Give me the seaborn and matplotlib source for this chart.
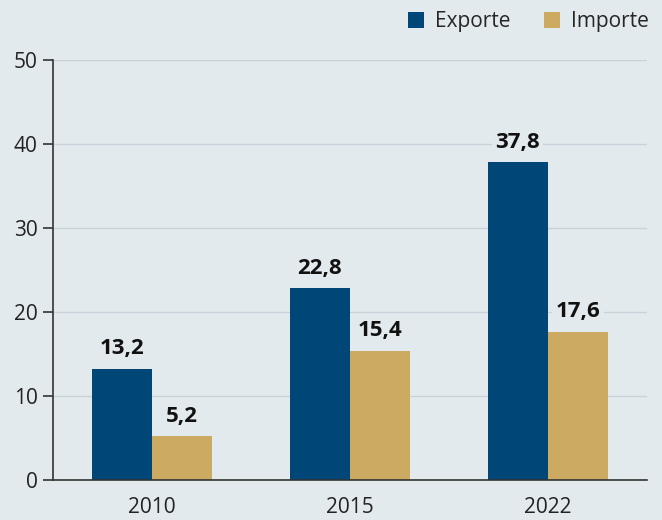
import pandas as pd
import matplotlib.pyplot as plt
import seaborn as sns
from matplotlib.patches import Patch

# data
years = ['2010', '2015', '2022']
exporte = [13.2, 22.8, 37.8]
importe = [5.2, 15.4, 17.6]
series = ['Exporte', 'Importe']
colors = ['#004677', '#cdaa62']
bg = '#e3eaee'

df = pd.DataFrame({
    'Jahr': years * 2,
    'Wert': exporte + importe,
    'Serie': ['Exporte'] * 3 + ['Importe'] * 3,
})

sns.set_style('white')
plt.rcParams['font.family'] = ['Open Sans', 'DejaVu Sans']

fig = plt.figure(figsize=(6.62, 5.2), dpi=100, facecolor=bg)
ax = fig.add_axes([0.080, 0.0769, 0.897, 0.8077], facecolor=bg)

sns.barplot(data=df, x='Jahr', y='Wert', hue='Serie', palette=colors,
            width=0.606, ax=ax, legend=False, linewidth=0, saturation=1)

ax.set_xlim(-0.5, 2.5)
ax.set_ylim(0, 50)
ax.set_yticks([0, 10, 20, 30, 40, 50])
ax.yaxis.grid(True, color='#c9d2d8', linewidth=1)
ax.set_axisbelow(True)

# value labels
for cont in ax.containers:
    for bar in cont:
        h = bar.get_height()
        ax.annotate(f'{h:.1f}'.replace('.', ','),
                    (bar.get_x() + bar.get_width() / 2, h),
                    xytext=(0, 7), textcoords='offset points',
                    ha='center', va='bottom', fontsize=16, fontweight='bold',
                    color='#111111',
                    bbox=dict(boxstyle='square,pad=0.15', fc=bg, ec='none'))

# x ticks: labels at centers, tick marks at group boundaries
ax.set_xticks([0, 1, 2])
ax.set_xticklabels(years)
ax.tick_params(axis='x', length=0, pad=12, labelsize=15, colors='#222222')
ax.set_xticks([0.5, 1.5, 2.5], minor=True)
ax.tick_params(axis='x', which='minor', length=7, width=1.2, color='#333333', direction='out')
ax.tick_params(axis='y', length=7, width=1.2, color='#333333', labelsize=15,
               labelcolor='#222222', direction='out', left=True, pad=4)

ax.set_xlabel('')
ax.set_ylabel('')
for s in ['top', 'right']:
    ax.spines[s].set_visible(False)
for s in ['left', 'bottom']:
    ax.spines[s].set_color('#333333')
    ax.spines[s].set_linewidth(1.2)
ax.spines['bottom'].set_bounds(-0.5, 2.5)

handles = [Patch(facecolor=c, edgecolor='none', label=l) for c, l in zip(colors, series)]
fig.legend(handles=handles, loc='upper right', bbox_to_anchor=(1.008, 1.015), ncol=2,
           frameon=False, fontsize=15, handlelength=0.8, handleheight=0.8,
           handletextpad=0.5, columnspacing=1.6)

fig.savefig('out.png', dpi=100, facecolor=bg)
